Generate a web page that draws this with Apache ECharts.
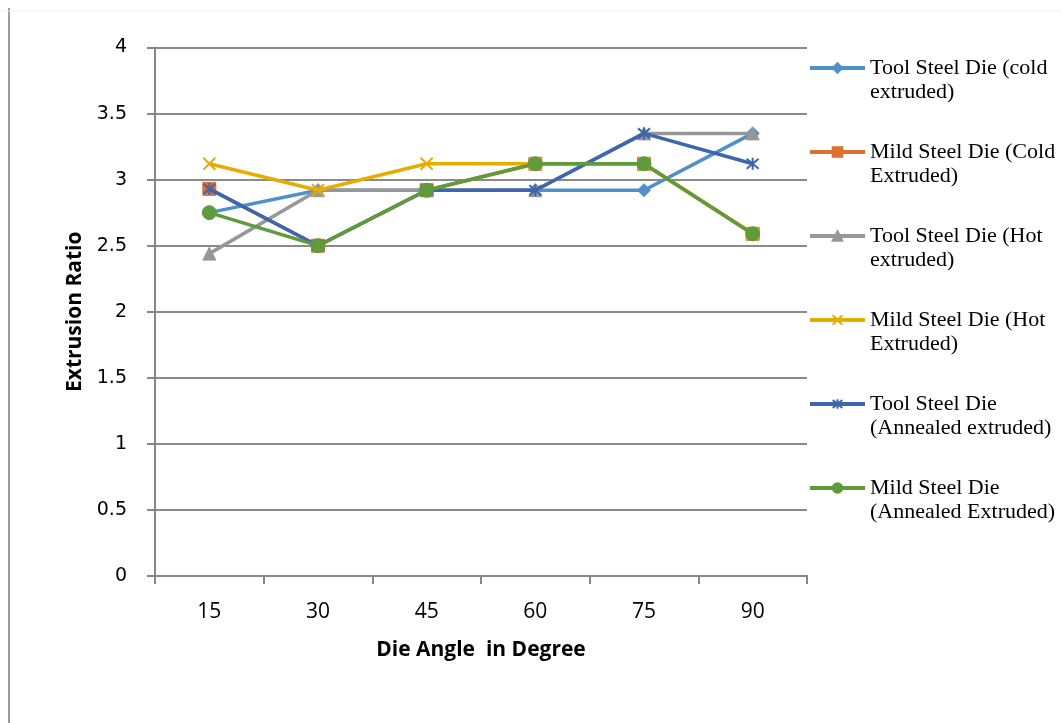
<!DOCTYPE html>
<html>
<head>
<meta charset="utf-8">
<script src="https://cdn.jsdelivr.net/npm/echarts@6/dist/echarts.min.js"></script>
<style>
html,body{margin:0;padding:0;background:#fff;}
#chart{width:1062px;height:723px;}
</style>
</head>
<body>
<div id="chart"></div>
<script>
// ---- data ----
var categories = ['15', '30', '45', '60', '75', '90'];
var seriesNames = [
  'Tool Steel Die (cold\nextruded)',
  'Mild Steel Die (Cold\nExtruded)',
  'Tool Steel Die (Hot\nextruded)',
  'Mild Steel Die (Hot\nExtruded)',
  'Tool Steel Die\n(Annealed extruded)',
  'Mild Steel Die\n(Annealed Extruded)'
];
var toolCold      = [2.75, 2.92, 2.92, 2.92, 2.92, 3.35];
var mildCold      = [2.93, 2.50, 2.92, 3.12, 3.12, 2.59];
var toolHot       = [2.44, 2.92, 2.92, 2.92, 3.35, 3.35];
var mildHot       = [3.12, 2.92, 3.12, 3.12, 3.12, 2.59];
var toolAnnealed  = [2.93, 2.50, 2.92, 2.92, 3.35, 3.12];
var mildAnnealed  = [2.75, 2.50, 2.92, 3.12, 3.12, 2.59];
var yTicks = [0, 0.5, 1, 1.5, 2, 2.5, 3, 3.5, 4];

// ---- styles ----
var colors = ['#4F90CA', '#E0702E', '#979797', '#E6AC00', '#3E65B0', '#5F9B3B'];
var symbols = [
  'diamond',
  'rect',
  'triangle',
  'path://M0,0L10,10M10,0L0,10',
  'path://M0,0L10,10M10,0L0,10M5,-1L5,11',
  'circle'
];
var symbolSizes = [13, 13, 13, 12, 12, 14];
var dataSets = [toolCold, mildCold, toolHot, mildHot, toolAnnealed, mildAnnealed];

var series = dataSets.map(function (d, i) {
  var isPath = symbols[i].indexOf('path://') === 0;
  return {
    name: seriesNames[i],
    type: 'line',
    data: d,
    symbol: symbols[i],
    symbolSize: symbolSizes[i],
    showAllSymbol: true,
    z: 2 + i,
    lineStyle: { color: colors[i], width: 3.5 },
    itemStyle: {
      color: colors[i],
      borderColor: colors[i],
      borderWidth: isPath ? 2 : 1,
      opacity: 1
    },
    emphasis: { disabled: true }
  };
});

var chart = echarts.init(document.getElementById('chart'), null, { renderer: 'canvas' });
chart.setOption({
  animation: false,
  backgroundColor: '#ffffff',
  color: colors,
  grid: { left: 155, top: 47.5, right: 255, bottom: 147, containLabel: false },
  xAxis: {
    type: 'category',
    data: categories,
    boundaryGap: true,
    name: 'Die Angle  in Degree',
    nameLocation: 'middle',
    nameGap: 64,
    nameTextStyle: { fontFamily: 'Open Sans', fontWeight: 'bold', fontSize: 21, color: '#000' },
    axisLine: { show: true, lineStyle: { color: '#868686', width: 2 } },
    axisTick: { show: true, length: 8, alignWithLabel: false, lineStyle: { color: '#868686', width: 2 } },
    axisLabel: { margin: 26, fontFamily: 'Open Sans', fontSize: 21, color: '#000' },
    splitLine: { show: false }
  },
  yAxis: {
    type: 'value',
    min: yTicks[0],
    max: yTicks[yTicks.length - 1],
    interval: 0.5,
    name: 'Extrusion Ratio',
    nameLocation: 'middle',
    nameGap: 69,
    nameTextStyle: { fontFamily: 'Open Sans', fontWeight: 'bold', fontSize: 21, color: '#000' },
    axisLine: { show: true, lineStyle: { color: '#868686', width: 2 } },
    axisTick: { show: true, length: 8, lineStyle: { color: '#868686', width: 2 } },
    axisLabel: { margin: 28, fontFamily: 'DejaVu Sans', fontSize: 19, color: '#000' },
    splitLine: { show: true, lineStyle: { color: '#8A8A8A', width: 2 } }
  },
  legend: {
    orient: 'vertical',
    left: 808,
    top: 32,
    padding: 0,
    itemGap: 12,
    itemWidth: 55,
    itemHeight: 12,
    selectedMode: false,
    data: seriesNames,
    formatter: function (name) { return '\n' + name; },
    lineStyle: { width: 4 },
    textStyle: {
      fontFamily: 'Liberation Serif',
      fontSize: 22,
      lineHeight: 24,
      color: '#000'
    }
  },
  graphic: [
    { type: 'line', shape: { x1: 9, y1: 8, x2: 9, y2: 723 }, style: { stroke: '#9B9B9B', lineWidth: 2 } },
    { type: 'line', shape: { x1: 0, y1: 11, x2: 1062, y2: 11 }, style: { stroke: '#EEEEEE', lineWidth: 1 } }
  ],
  series: series
});
</script>
</body>
</html>
